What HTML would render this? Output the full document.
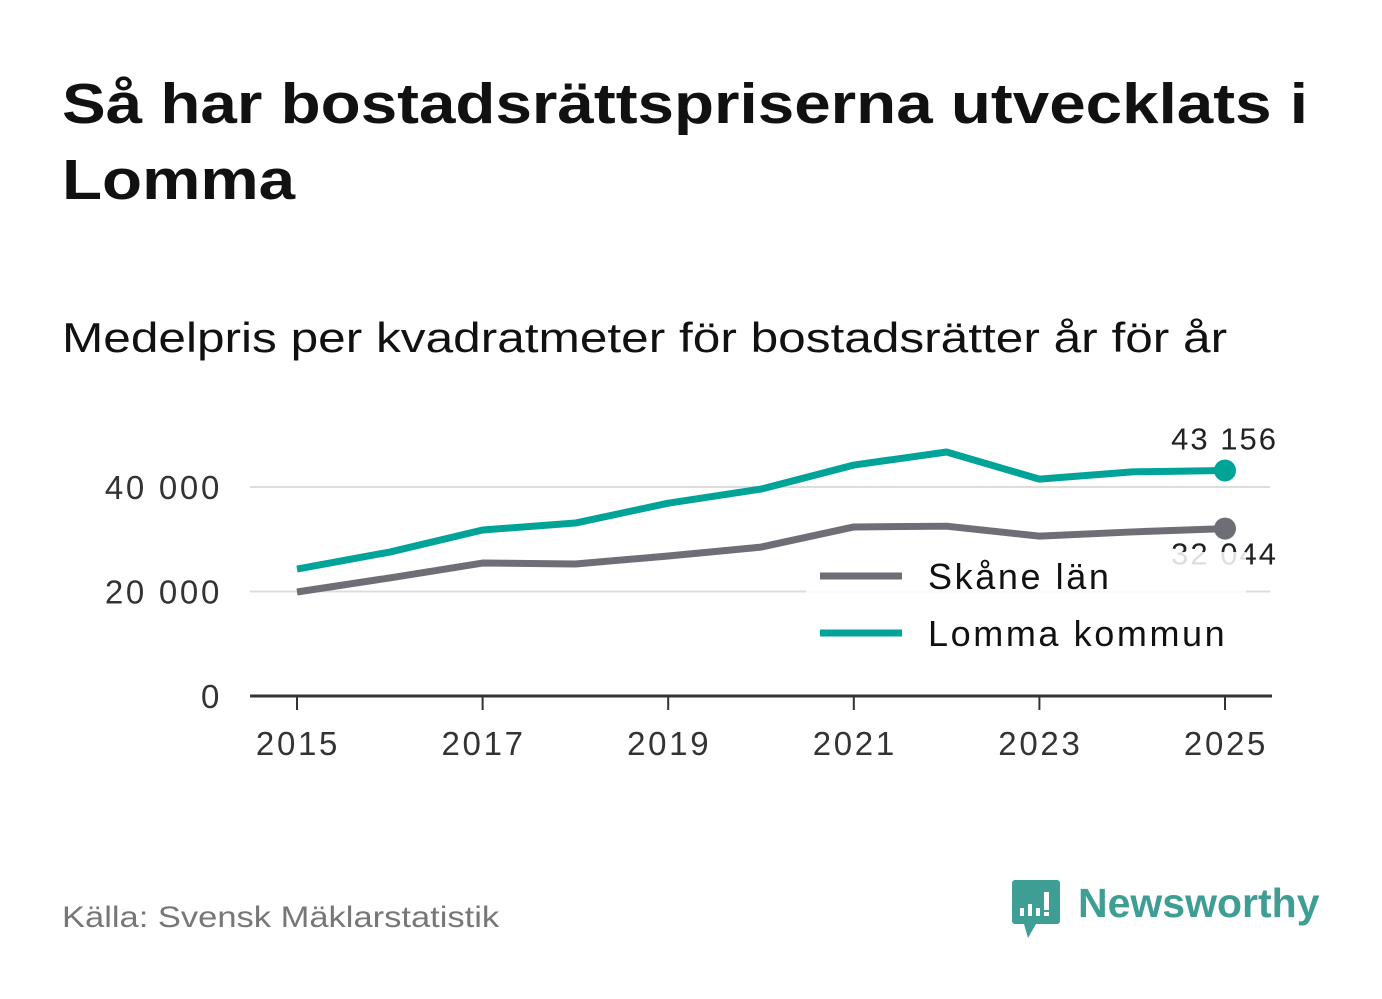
<!DOCTYPE html>
<html><head><meta charset="utf-8"><style>
body{margin:0;width:1382px;height:999px;background:#fff;font-family:"Liberation Sans","DejaVu Sans",sans-serif;overflow:hidden;position:relative}
.t{position:absolute;white-space:nowrap;transform-origin:left top}
</style></head><body>
<div class="t" style="left:62px;top:66px;font-size:57px;font-weight:bold;color:#111;line-height:76px;transform:scaleX(1.15)">Så har bostadsrättspriserna utvecklats i<br>Lomma</div>
<div class="t" style="left:62px;top:314px;font-size:42px;color:#111;transform:scaleX(1.18)">Medelpris per kvadratmeter för bostadsrätter år för år</div>
<svg id="chart" width="1382" height="999" style="position:absolute;left:0;top:0"></svg>
<div class="t" style="left:62px;top:901px;font-size:30px;color:#777;transform:scaleX(1.15)">Källa: Svensk Mäklarstatistik</div>
<svg style="position:absolute;left:1012px;top:880px" width="50" height="60"><path d="M3 0h42a3 3 0 0 1 3 3v38a3 3 0 0 1-3 3H24l-8 14-4-14H3a3 3 0 0 1-3-3V3a3 3 0 0 1 3-3z" fill="#3f9e94"/><rect x="8" y="28" width="4" height="8" fill="#fff"/><rect x="16" y="24" width="4" height="12" fill="#fff"/><rect x="24" y="28" width="4" height="8" fill="#fff"/><rect x="32" y="12" width="5" height="18" fill="#fff"/><rect x="32" y="32" width="5" height="4" fill="#fff"/></svg>
<div class="t" style="left:1078px;top:880px;font-size:41px;font-weight:bold;color:#3f9e94">Newsworthy</div>
<script>
const years=[2015,2016,2017,2018,2019,2020,2021,2022,2023,2024,2025];
const lomma=[24300,27550,31770,33100,36900,39600,44200,46700,41500,42900,43156];
const skane=[19900,22600,25450,25260,26800,28500,32350,32500,30600,31400,32044];
const yTicks=[0,20000,40000];
const xTicks=[2015,2017,2019,2021,2023,2025];
const ns="http://www.w3.org/2000/svg";
const svg=document.getElementById('chart');
const X=v=>297+(v-2015)*92.8;
const Y=v=>696-v*0.005225;
function mk(t,a,p){const e=document.createElementNS(ns,t);for(const k in a)e.setAttribute(k,a[k]);(p||svg).appendChild(e);return e;}
const fmt=v=>String(v).replace(/\B(?=(\d{3})+(?!\d))/g,' ');
yTicks.forEach(v=>{
 if(v>0){const g=mk('line',{x1:250,x2:1270,y1:Y(v),y2:Y(v),stroke:'#ddd','stroke-width':2});
 }
 const t=mk('text',{x:222,y:Y(v)+12,'text-anchor':'end','font-size':33,'letter-spacing':2.7,fill:'#333'});t.textContent=fmt(v);
 
});
const ax=mk('line',{x1:250,x2:1272,y1:696,y2:696,stroke:'#333','stroke-width':3});

xTicks.forEach(v=>{
 const l=mk('line',{x1:X(v),x2:X(v),y1:696,y2:710,stroke:'#333','stroke-width':2});
 
 const t=mk('text',{x:X(v)+1,y:755,'text-anchor':'middle','font-size':33,'letter-spacing':2.7,fill:'#333'});t.textContent=v;
 
});
function series(d,c,name){
 const p=mk('polyline',{points:d.map((v,i)=>X(years[i])+','+Y(v)).join(' '),fill:'none',stroke:c,'stroke-width':7,'stroke-linejoin':'round'});
 
 const n=d.length-1;
 const ci=mk('circle',{cx:X(years[n]),cy:Y(d[n]),r:11,fill:c});
 
}
series(skane,'#6e6e76','skane');
series(lomma,'#00a398','lomma');
let t=mk('text',{x:1278,y:Y(lomma[10])-21,'text-anchor':'end','font-size':31,'letter-spacing':2,fill:'#222'});t.textContent=fmt(lomma[10]);

t=mk('text',{x:1278,y:Y(skane[10])+36,'text-anchor':'end','font-size':31,'letter-spacing':2,fill:'#222'});t.textContent=fmt(skane[10]);

const bg=mk('rect',{x:806,y:552,width:440,height:110,fill:'#fff','fill-opacity':0.85});

[['Skåne län','#6e6e76',576],['Lomma kommun','#00a398',633]].forEach(([n,c,y])=>{
 const l=mk('line',{x1:820,x2:902,y1:y,y2:y,stroke:c,'stroke-width':7});
 
 const tt=mk('text',{x:928,y:y+13,'font-size':36,'letter-spacing':2.6,fill:'#111'});tt.textContent=n;
 
});
</script>
</body></html>
